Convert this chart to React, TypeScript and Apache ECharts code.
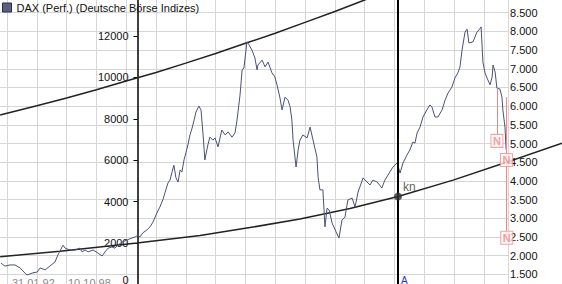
import React, { useEffect, useRef } from 'react';
import * as echarts from 'echarts';

const daxName = 'DAX (Perf.) (Deutsche Börse Indizes)';

const daxDates = [
  1991.80, 1991.93, 1992.10, 1992.27, 1992.44, 1992.57, 1992.67, 1992.77, 1992.87, 1993.01,
  1993.11, 1993.28, 1993.44, 1993.61, 1993.71, 1993.88, 1993.95, 1994.11, 1994.28, 1994.45,
  1994.52, 1994.62, 1994.72, 1994.89, 1995.05, 1995.19, 1995.29, 1995.39, 1995.52, 1995.62,
  1995.72, 1995.86, 1996.03, 1996.19, 1996.30, 1996.40, 1996.46, 1996.56, 1996.70, 1996.80,
  1996.90, 1997.03, 1997.13, 1997.23, 1997.30, 1997.40, 1997.47, 1997.54, 1997.60, 1997.67,
  1997.74, 1997.81, 1997.87, 1997.94, 1998.01, 1998.07, 1998.14, 1998.21, 1998.28, 1998.34,
  1998.44, 1998.51, 1998.58, 1998.64, 1998.74, 1998.81, 1998.91, 1998.98, 1999.08, 1999.21,
  1999.32, 1999.42, 1999.55, 1999.65, 1999.72, 1999.82, 1999.89, 1999.95, 1999.99, 2000.05,
  2000.12, 2000.22, 2000.32, 2000.39, 2000.42, 2000.56, 2000.66, 2000.76, 2000.89, 2000.99,
  2001.06, 2001.16, 2001.23, 2001.33, 2001.43, 2001.50, 2001.56, 2001.60, 2001.70, 2001.77,
  2001.83, 2001.93, 2002.07, 2002.17, 2002.27, 2002.40, 2002.44, 2002.50, 2002.60, 2002.67,
  2002.74, 2002.81, 2002.91, 2003.01, 2003.14, 2003.24, 2003.34, 2003.44, 2003.58, 2003.68,
  2003.78, 2003.95, 2004.08, 2004.18, 2004.28, 2004.42, 2004.58, 2004.68, 2004.85, 2004.95,
  2005.09, 2005.19, 2005.29, 2005.42, 2005.52, 2005.62, 2005.69, 2005.76, 2005.86, 2005.96,
  2006.09, 2006.19, 2006.26, 2006.36, 2006.46, 2006.60, 2006.70, 2006.80, 2006.93, 2007.03,
  2007.13, 2007.20, 2007.27, 2007.37, 2007.44, 2007.50, 2007.64, 2007.77, 2007.84, 2007.91,
  2007.97, 2008.04, 2008.11, 2008.21, 2008.28, 2008.31, 2008.38, 2008.44, 2008.54, 2008.61,
  2008.64, 2008.71, 2008.75,
];

const daxValues = [
  1800, 1720, 1750, 1750, 1670, 1560, 1480, 1510, 1540, 1560,
  1670, 1620, 1720, 1830, 2020, 2280, 2200, 2150, 2150, 2200,
  2100, 2150, 2100, 2150, 2070, 1990, 2100, 2200, 2230, 2200,
  2280, 2360, 2420, 2470, 2500, 2550, 2500, 2610, 2690, 2770,
  2900, 3140, 3300, 3490, 3680, 3940, 4020, 4240, 4420, 4080,
  3970, 4290, 4240, 4560, 4770, 4960, 5230, 5410, 5630, 5840,
  6000, 5900, 5230, 4560, 4960, 5170, 5090, 5150, 4910, 5360,
  5230, 5310, 5170, 5280, 5630, 6300, 6970, 7020, 7290, 7720,
  7640, 7500, 7290, 6970, 7100, 7230, 7050, 7180, 6890, 6780,
  6570, 6220, 5900, 6240, 6160, 5980, 5630, 5090, 4370, 4830,
  5090, 5230, 5150, 5440, 5090, 4640, 4100, 3760, 3760, 2770,
  3270, 3220, 2870, 2690, 2470, 2950, 3030, 3490, 3540, 3300,
  3700, 4080, 3970, 3890, 4020, 3970, 3810, 4020, 4240, 4370,
  4480, 4210, 4480, 4690, 4830, 5040, 5010, 5280, 5440, 5710,
  5900, 6030, 5980, 5710, 5710, 5900, 6160, 6350, 6510, 6750,
  6890, 7050, 7500, 7980, 8060, 7690, 7720, 7980, 8040, 8120,
  7180, 6890, 6750, 6570, 6780, 7100, 6910, 6480, 6460, 6240,
  5900, 5440, 4830,
];

const upperDates = [1991.77, 1992, 1993, 1994, 1995, 1996, 1997, 1998, 1999, 2000, 2001, 2002, 2003, 2004, 2005, 2006];
const upperValues = [5760, 5810, 6010, 6220, 6440, 6670, 6900, 7150, 7410, 7680, 7950, 8240, 8530, 8840, 9150, 9470];

const lowerDates = [1991.77, 1993.78, 1996.36, 1998.48, 2000.15, 2001.83, 2003.51, 2005.12, 2006.97, 2008.81, 2010.62];
const lowerValues = [1970, 2120, 2340, 2540, 2750, 2980, 3260, 3580, 4020, 4510, 5010];

const knDate = 2005.12;
const knValue = 3580;
const knLabel = 'kn';

const noteDates = [2008.44, 2008.76, 2008.77];
const noteValues = [5070, 4560, 2480];
const noteLabel = 'N';
const noteLineDates = [2008.44, 2008.76];
const noteLineTops = [6480, 6240];
const noteLineBottoms = [5250, 2650];

const dateLabels = ['31.01.92', '10.10.98'];
const bottomMark = 'A';

const xMin = 1991;
const xMax = 2008.812;
const xMaxWide = 2010.624;
const rightMin = 1000;
const rightMax = 9000;
const rightStep = 500;
const leftMin = -415;
const leftMax = 14030;

const fmtDot = (v: number) => {
  if (v <= rightMin || v >= rightMax) return '';
  const s = String(Math.round(v));
  return s.length > 3 ? s.slice(0, -3) + '.' + s.slice(-3) : s;
};

export default function App() {
  const ref = useRef<HTMLDivElement>(null);
  useEffect(() => {
    document.body.style.margin = '0';
    const chart = echarts.init(ref.current!, undefined, { renderer: 'svg' });
    const font = '"Liberation Sans", Arial, sans-serif';
    const zip = (a: number[], b: number[]) => a.map((d, i) => [d, b[i]]);
    chart.setOption({
      animation: false,
      backgroundColor: '#fff',
      textStyle: { fontFamily: font },
      grid: [
        { left: -22.8, top: -6, width: 530.8, height: 299, containLabel: false, outerBoundsMode: 'none' },
        { left: -22.8, top: -6, width: 584.8, height: 299, containLabel: false, outerBoundsMode: 'none' },
      ],
      legend: {
        data: [{ name: daxName, itemStyle: { color: '#5b6182', borderColor: '#2a2e44', borderWidth: 1 } }],
        left: 2, top: 2, padding: 0, icon: 'rect', itemWidth: 9, itemHeight: 9,
        textStyle: { fontSize: 11, color: '#111', fontFamily: font },
      },
      xAxis: [
        {
          type: 'value', gridIndex: 0, min: xMin, max: xMax, interval: 1,
          axisLine: { show: false }, axisTick: { show: false }, axisLabel: { show: false },
          splitLine: { show: true, lineStyle: { color: '#d6d6d6', width: 1 } },
        },
        {
          type: 'value', gridIndex: 1, min: xMin, max: xMaxWide, show: false,
          splitLine: { show: false },
        },
      ],
      yAxis: [
        {
          type: 'value', gridIndex: 0, position: 'right', min: rightMin, max: rightMax, interval: rightStep,
          axisLine: { show: false }, axisTick: { show: false },
          axisLabel: { margin: 2, fontSize: 11, color: '#111', formatter: fmtDot, fontFamily: font },
          splitLine: { show: true, lineStyle: { color: '#d6d6d6', width: 1 } },
        },
        {
          type: 'value', gridIndex: 0, position: 'left', offset: -160.3, min: leftMin, max: leftMax, splitNumber: 7,
          axisLine: { show: true, onZero: false, lineStyle: { color: '#000', width: 1.5 } },
          axisTick: { show: true, length: 4, lineStyle: { color: '#000' } },
          axisLabel: {
            margin: 9, fontSize: 11, color: '#111', showMinLabel: false, showMaxLabel: false, fontFamily: font,
            formatter: (v: number) => (v === 0 ? '{z|0}' : String(v)),
            rich: { z: { fontSize: 11, color: '#111', padding: [0, 0, 9, 0], fontFamily: font } },
          },
          splitLine: { show: false },
        },
        {
          type: 'value', gridIndex: 1, min: rightMin, max: rightMax, show: false,
          splitLine: { show: false },
        },
      ],
      series: [
        {
          name: 'upper', type: 'line', xAxisIndex: 1, yAxisIndex: 2, data: zip(upperDates, upperValues),
          symbol: 'none', lineStyle: { color: '#222', width: 1.5 }, silent: true, z: 3,
        },
        {
          name: 'lower', type: 'line', xAxisIndex: 1, yAxisIndex: 2, data: zip(lowerDates, lowerValues),
          symbol: 'none', lineStyle: { color: '#222', width: 1.5 }, silent: true, z: 3,
        },
        {
          name: daxName, type: 'line', xAxisIndex: 0, yAxisIndex: 0, data: zip(daxDates, daxValues), symbol: 'none',
          lineStyle: { color: '#4b5275', width: 1 }, itemStyle: { color: '#5b6182' }, z: 4,
          markLine: {
            silent: true, symbol: ['none', 'none'], label: { show: false },
            lineStyle: { color: '#000', width: 2, type: 'solid' },
            data: [{ xAxis: knDate }],
          },
        },
        {
          name: 'kn', type: 'scatter', xAxisIndex: 0, yAxisIndex: 0, data: [[knDate, knValue]], symbol: 'circle', symbolSize: 8,
          itemStyle: { color: '#333' }, z: 6,
          label: { show: true, formatter: knLabel, position: 'right', offset: [-4, -10], fontSize: 12, color: '#333' },
        },
        {
          name: 'notes', type: 'scatter', xAxisIndex: 0, yAxisIndex: 0, data: zip(noteDates, noteValues), symbol: 'rect', symbolSize: [12, 13],
          itemStyle: { color: '#fff4f4', borderColor: '#ee9090', borderWidth: 1 }, z: 7,
          label: { show: true, formatter: noteLabel, position: 'inside', fontSize: 11, fontWeight: 'bold', color: '#ee8888' },
          markLine: {
            silent: true, symbol: ['none', 'none'], label: { show: false },
            lineStyle: { color: '#ee8888', width: 1, type: 'solid' },
            data: noteLineDates.map((d, i) => [{ coord: [d, noteLineTops[i]] }, { coord: [d, noteLineBottoms[i]] }]),
          },
        },
      ],
      graphic: [
        ...dateLabels.map((t, i) => ({
          type: 'text', left: i === 0 ? 12 : 68, top: 277,
          style: { text: t, fill: '#8a8a8a', fontSize: 11, fontFamily: font },
        })),
        { type: 'text', left: 401, top: 275, style: { text: bottomMark, fill: '#2233ee', fontSize: 10, fontFamily: font } },
      ],
    });
    return () => chart.dispose();
  }, []);
  return <div ref={ref} style={{ width: 562, height: 284 }} />;
}
